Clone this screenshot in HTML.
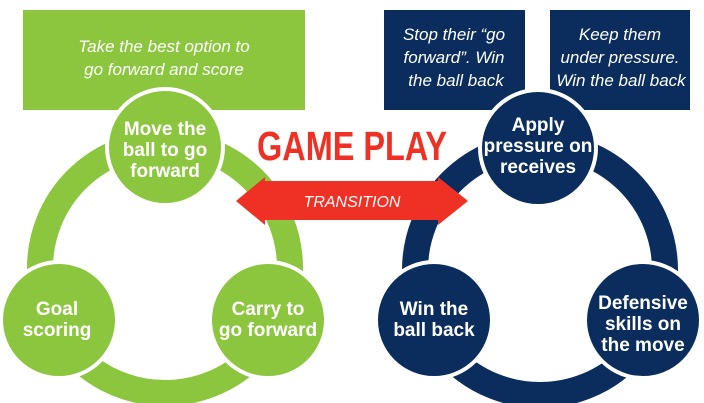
<!DOCTYPE html>
<html><head><style>
html,body{margin:0;padding:0;background:#fff;width:704px;height:403px;overflow:hidden}
svg text{font-family:"Liberation Sans Narrow","Liberation Sans",sans-serif}
</style></head><body>
<svg width="704" height="403" viewBox="0 0 704 403" xmlns="http://www.w3.org/2000/svg">
<!-- left -->
<rect x="23" y="10" width="282" height="100" fill="#8cc63f"/>
<text x="164" y="52" fill="#fff" font-size="17" font-style="italic" text-anchor="middle">Take the best option to</text>
<text x="164" y="75" fill="#fff" font-size="17" font-style="italic" text-anchor="middle">go forward and score</text>
<circle cx="165" cy="268" r="125" fill="none" stroke="#8cc63f" stroke-width="26"/>
<g stroke="#fff" stroke-width="4" fill="#8cc63f">
<circle cx="165" cy="147" r="58"/>
<circle cx="59" cy="320" r="58"/>
<circle cx="268" cy="320" r="58"/>
</g>
<g fill="#fff" font-weight="bold" font-size="19" text-anchor="middle">
<text x="165" y="135">Move the</text><text x="165" y="156">ball to go</text><text x="165" y="177">forward</text>
<text x="57" y="315">Goal</text><text x="57" y="336">scoring</text>
<text x="268" y="315">Carry to</text><text x="268" y="336">go forward</text>
</g>
<!-- right -->
<rect x="384" y="10" width="141" height="100" fill="#0b2d5e"/>
<rect x="550" y="10" width="140" height="100" fill="#0b2d5e"/>
<g fill="#fff" font-size="17" font-style="italic" text-anchor="middle">
<text x="454" y="40">Stop their “go</text><text x="454" y="63">forward”. Win</text><text x="456" y="86">the ball back</text>
<text x="620" y="40">Keep them</text><text x="620" y="63">under pressure.</text><text x="621" y="86">Win the ball back</text>
</g>
<circle cx="540" cy="270" r="125" fill="none" stroke="#0b2d5e" stroke-width="26"/>
<g stroke="#fff" stroke-width="4" fill="#0b2d5e">
<circle cx="538" cy="148" r="58"/>
<circle cx="434" cy="320" r="58"/>
<circle cx="643" cy="320" r="58"/>
</g>
<g fill="#fff" font-weight="bold" font-size="19" text-anchor="middle">
<text x="538" y="131">Apply</text><text x="538" y="152">pressure on</text><text x="538" y="173">receives</text>
<text x="434" y="315">Win the</text><text x="434" y="336">ball back</text>
<text x="643" y="309">Defensive</text><text x="643" y="330">skills on</text><text x="643" y="351">the move</text>
</g>
<!-- center -->
<text x="352" y="160" fill="#ee3124" font-weight="bold" font-size="41" text-anchor="middle" textLength="190" lengthAdjust="spacingAndGlyphs">GAME PLAY</text>
<polygon points="236,201 265,177 265,181 438,181 438,177 468,201 438,225 438,220 265,220 265,225" fill="#ee3124"/>
<text x="352" y="207" fill="#fff" font-style="italic" font-size="16" text-anchor="middle">TRANSITION</text>
</svg>
</body></html>
